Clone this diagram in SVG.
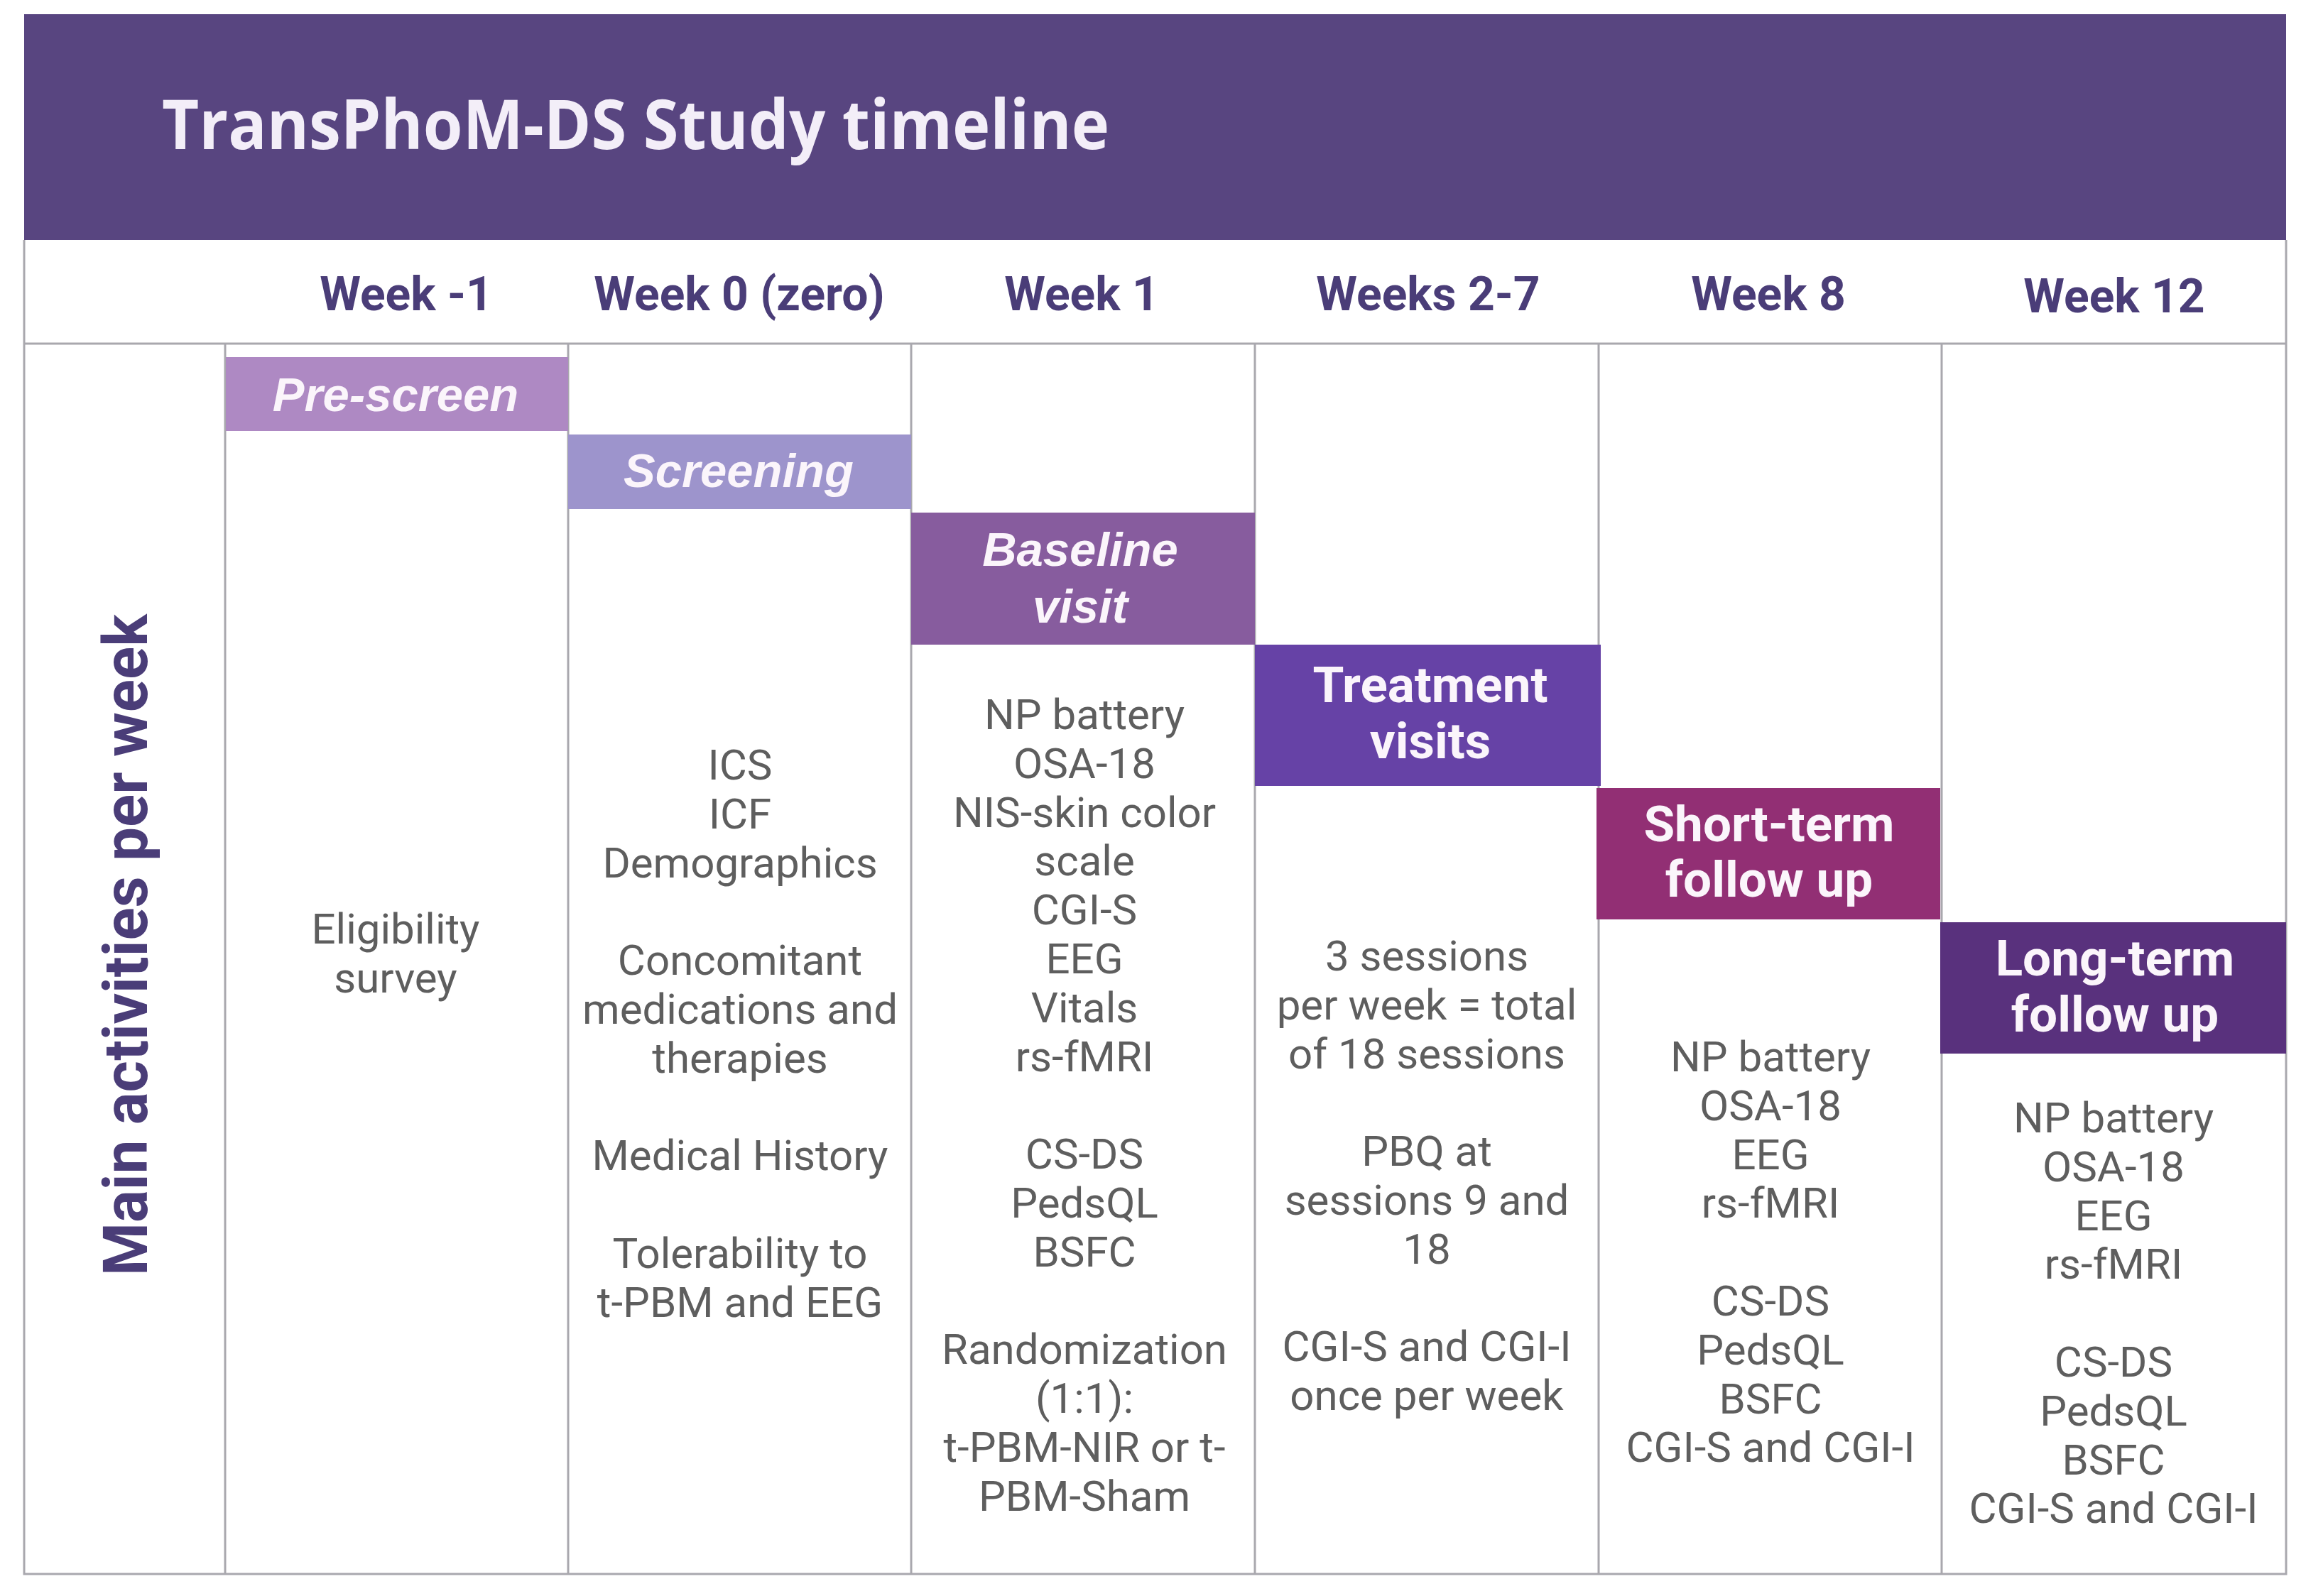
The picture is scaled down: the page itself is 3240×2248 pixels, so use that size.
<svg xmlns="http://www.w3.org/2000/svg" width="3240" height="2248" viewBox="0 0 3240 2248">
<style>
.grid{stroke:#a9a8ae;stroke-width:3;fill:none}
.wk{font-family:Roboto,"Liberation Sans",sans-serif;font-weight:700;font-size:66px;fill:#4a3d78;text-anchor:middle}
.body{font-family:Roboto,"Liberation Sans",sans-serif;font-size:60px;fill:#5e5e5e;text-anchor:middle}
.it{font-family:"Liberation Sans",Arial,sans-serif;font-weight:700;font-style:italic;font-size:67px;fill:#fbf5fb;text-anchor:middle}
.bd{font-family:Roboto,"Liberation Sans",sans-serif;font-weight:700;font-size:71px;fill:#fbf5fb;text-anchor:middle}
</style>
<rect x="0" y="0" width="3240" height="2248" fill="#ffffff"/>
<g id="header">
<rect x="34" y="20" width="3185" height="318" fill="#584580"/>
<text x="228" y="210" font-family="'Open Sans',sans-serif" font-weight="700" font-size="96" fill="#f3eef8" textLength="1334" lengthAdjust="spacingAndGlyphs">TransPhoM-DS Study timeline</text>
</g>
<g id="grid">
<path class="grid" d="M34 338 V2217 H3219 V338"/>
<path class="grid" d="M34 484 H3219" stroke-width="4"/>
<path class="grid" d="M317 484 V2217 M800 484 V2217 M1283 484 V2217 M1767 484 V2217 M2251 484 V2217 M2734 484 V2217"/>
</g>
<g id="weeks">
<text class="wk" x="572" y="437">Week -1</text>
<text class="wk" x="1041" y="437">Week 0 (zero)</text>
<text class="wk" x="1523" y="437">Week 1</text>
<text class="wk" x="2011" y="437">Weeks 2-7</text>
<text class="wk" x="2490" y="437">Week 8</text>
<text class="wk" x="2977" y="440">Week 12</text>
</g>
<g id="axis-label">
<text x="207" y="1331" transform="rotate(-90 207 1331)" font-family="Roboto,'Liberation Sans',sans-serif" font-weight="700" font-size="88" fill="#4a3d78" text-anchor="middle" textLength="932" lengthAdjust="spacingAndGlyphs">Main activities per week</text>
</g>
<g id="prescreen">
<rect x="318" y="503" width="482" height="104" fill="#ae89c3"/>
<text class="it" x="557" y="579">Pre-screen</text>
<text class="body" x="557" y="1329">Eligibility<tspan x="557" dy="69">survey</tspan></text>
</g>
<g id="screening">
<rect x="800" y="612" width="483" height="105" fill="#9d94cc"/>
<text class="it" x="1040" y="686">Screening</text>
<text class="body" x="1042" y="1098">ICS<tspan x="1042" dy="68.8">ICF</tspan><tspan x="1042" dy="68.8">Demographics</tspan><tspan x="1042" dy="137.6">Concomitant</tspan><tspan x="1042" dy="68.8">medications and</tspan><tspan x="1042" dy="68.8">therapies</tspan><tspan x="1042" dy="137.6">Medical History</tspan><tspan x="1042" dy="137.6">Tolerability to</tspan><tspan x="1042" dy="68.8">t-PBM and EEG</tspan></text>
</g>
<g id="baseline">
<rect x="1283" y="722" width="484" height="186" fill="#875c9e"/>
<text class="it" x="1521" y="797">Baseline<tspan x="1521" dy="80">visit</tspan></text>
<text class="body" x="1527" y="1027">NP battery<tspan x="1527" dy="68.8">OSA-18</tspan><tspan x="1527" dy="68.8">NIS-skin color</tspan><tspan x="1527" dy="68.8">scale</tspan><tspan x="1527" dy="68.8">CGI-S</tspan><tspan x="1527" dy="68.8">EEG</tspan><tspan x="1527" dy="68.8">Vitals</tspan><tspan x="1527" dy="68.8">rs-fMRI</tspan><tspan x="1527" dy="137.6">CS-DS</tspan><tspan x="1527" dy="68.8">PedsQL</tspan><tspan x="1527" dy="68.8">BSFC</tspan><tspan x="1527" dy="137.6">Randomization</tspan><tspan x="1527" dy="68.8">(1:1):</tspan><tspan x="1527" dy="68.8">t-PBM-NIR or t-</tspan><tspan x="1527" dy="68.8">PBM-Sham</tspan></text>
</g>
<g id="treatment">
<rect x="1767" y="908" width="487" height="199" fill="#6642a6"/>
<text class="bd" x="2014" y="989">Treatment<tspan x="2014" dy="79">visits</tspan></text>
<text class="body" x="2009" y="1367">3 sessions<tspan x="2009" dy="68.8">per week = total</tspan><tspan x="2009" dy="68.8">of 18 sessions</tspan><tspan x="2009" dy="137.6">PBQ at</tspan><tspan x="2009" dy="68.8">sessions 9 and</tspan><tspan x="2009" dy="68.8">18</tspan><tspan x="2009" dy="137.6">CGI-S and CGI-I</tspan><tspan x="2009" dy="68.8">once per week</tspan></text>
</g>
<g id="short-term">
<rect x="2248" y="1110" width="484" height="185" fill="#922f74"/>
<text class="bd" x="2491" y="1185">Short-term<tspan x="2491" dy="78">follow up</tspan></text>
<text class="body" x="2493" y="1509">NP battery<tspan x="2493" dy="68.8">OSA-18</tspan><tspan x="2493" dy="68.8">EEG</tspan><tspan x="2493" dy="68.8">rs-fMRI</tspan><tspan x="2493" dy="137.6">CS-DS</tspan><tspan x="2493" dy="68.8">PedsQL</tspan><tspan x="2493" dy="68.8">BSFC</tspan><tspan x="2493" dy="68.8">CGI-S and CGI-I</tspan></text>
</g>
<g id="long-term">
<rect x="2732" y="1299" width="487" height="185" fill="#59317d"/>
<text class="bd" x="2978" y="1374">Long-term<tspan x="2978" dy="79">follow up</tspan></text>
<text class="body" x="2976" y="1595">NP battery<tspan x="2976" dy="68.8">OSA-18</tspan><tspan x="2976" dy="68.8">EEG</tspan><tspan x="2976" dy="68.8">rs-fMRI</tspan><tspan x="2976" dy="137.6">CS-DS</tspan><tspan x="2976" dy="68.8">PedsQL</tspan><tspan x="2976" dy="68.8">BSFC</tspan><tspan x="2976" dy="68.8">CGI-S and CGI-I</tspan></text>
</g>
</svg>
